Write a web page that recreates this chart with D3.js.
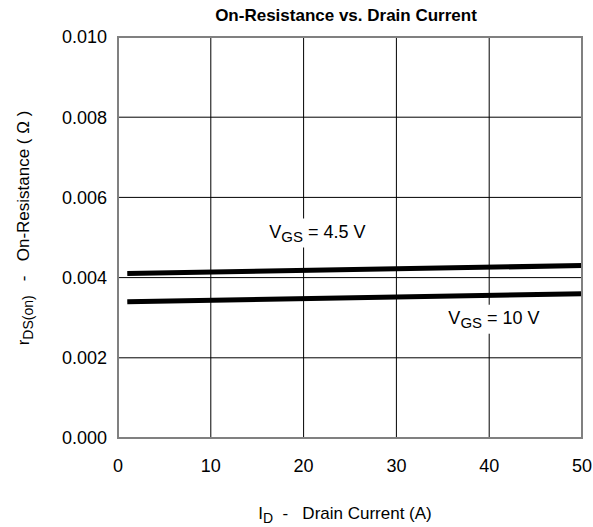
<!DOCTYPE html>
<html>
<head>
<meta charset="utf-8">
<script src="https://cdn.jsdelivr.net/npm/d3@7"></script>
<style>
  body { margin: 0; background: #fff; }
  svg text { font-family: "Liberation Sans", Arial, sans-serif; fill: #000; }
</style>
</head>
<body>
<svg id="chart" width="593" height="527"></svg>
<script>
// data
var current = [1, 50];
var vgs45 = [0.0041, 0.0043];
var vgs10 = [0.0034, 0.0036];
var xTicks = [0, 10, 20, 30, 40, 50];
var yTicks = [0, 0.002, 0.004, 0.006, 0.008, 0.010];

var svg = d3.select("#chart");
var plotL = 118, plotR = 582, plotT = 37, plotB = 438;

var x = d3.scaleLinear().domain([0, 50]).range([plotL, plotR]);
var y = d3.scaleLinear().domain([0, 0.010]).range([plotB, plotT]);

// grid
svg.append("g").selectAll("line").data(xTicks.slice(1, -1)).enter().append("line")
  .attr("x1", function(d) { return x(d); }).attr("x2", function(d) { return x(d); })
  .attr("y1", plotT).attr("y2", plotB)
  .attr("stroke", "#000").attr("stroke-width", 1);
svg.append("g").selectAll("line").data(yTicks.slice(1, -1)).enter().append("line")
  .attr("x1", plotL).attr("x2", plotR)
  .attr("y1", function(d) { return y(d); }).attr("y2", function(d) { return y(d); })
  .attr("stroke", "#000").attr("stroke-width", 1);

// tick labels
svg.append("g").selectAll("text").data(yTicks).enter().append("text")
  .attr("x", plotL - 11).attr("y", function(d) { return y(d); })
  .attr("dy", "0.35em").attr("text-anchor", "end")
  .style("font-size", "18px")
  .text(function(d) { return d3.format(".3f")(d); });
svg.append("g").selectAll("text").data(xTicks).enter().append("text")
  .attr("x", function(d) { return x(d); }).attr("y", 472)
  .attr("text-anchor", "middle")
  .style("font-size", "18px")
  .text(function(d) { return d; });

// curves
var line = d3.line()
  .x(function(d) { return x(d[0]); })
  .y(function(d) { return y(d[1]); });
[vgs45, vgs10].forEach(function(s) {
  svg.append("path")
    .datum(current.map(function(c, i) { return [c, s[i]]; }))
    .attr("d", line)
    .attr("fill", "none").attr("stroke", "#000").attr("stroke-width", 5);
});

// curve labels with white backing
function label(xv, yv, val) {
  var g = svg.append("g");
  var bg = g.append("rect").attr("fill", "#fff");
  var t = g.append("text").attr("x", x(xv)).attr("y", y(yv)).style("font-size", "18px");
  t.append("tspan").text("V");
  t.append("tspan").attr("dy", 4).style("font-size", "15px").text("GS");
  t.append("tspan").attr("dy", -4).text(" = " + val);
  var b = t.node().getBBox();
  bg.attr("x", b.x - 3).attr("y", b.y - 3)
    .attr("width", b.width + 6).attr("height", b.height + 6);
}
label(16.3, 0.0050, "4.5 V");
label(35.6, 0.00285, "10 V");

// frame
svg.append("rect").attr("x", plotL).attr("y", plotT)
  .attr("width", plotR - plotL).attr("height", plotB - plotT)
  .attr("fill", "none").attr("stroke", "#808080").attr("stroke-width", 2);

// title
svg.append("text").attr("x", 346).attr("y", 21).attr("text-anchor", "middle")
  .style("font-size", "17px").style("font-weight", "bold")
  .text("On-Resistance vs. Drain Current");

// x axis title
var xt = svg.append("text").attr("x", 345).attr("y", 519).attr("text-anchor", "middle")
  .style("font-size", "17px");
xt.append("tspan").text("I");
xt.append("tspan").attr("dy", 4).style("font-size", "14px").text("D");
xt.append("tspan").attr("dy", -4).attr("xml:space", "preserve").text("  -   Drain Current (A)");

// y axis title
var yt = svg.append("text").attr("transform", "translate(29,228) rotate(-90)")
  .attr("text-anchor", "middle").style("font-size", "17px");
yt.append("tspan").text("r");
yt.append("tspan").attr("dy", 4).style("font-size", "14px").text("DS(on)");
yt.append("tspan").attr("dy", -4).attr("xml:space", "preserve").text("   -   On-Resistance ( \u03A9 )");
</script>
</body>
</html>
